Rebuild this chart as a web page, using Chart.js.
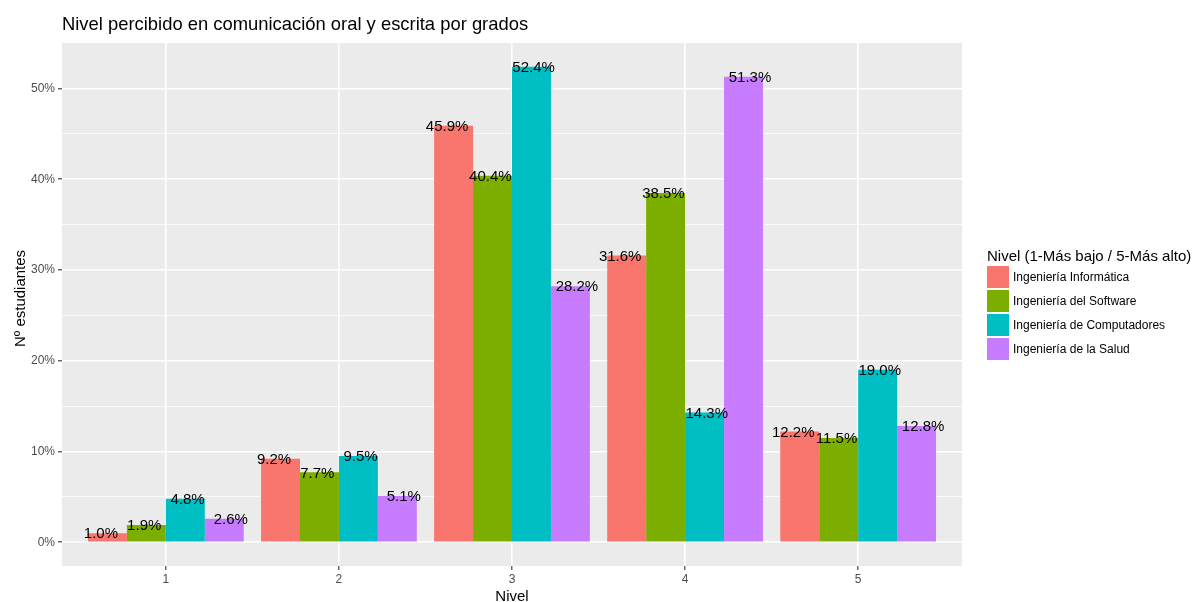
<!DOCTYPE html>
<html>
<head>
<meta charset="utf-8">
<script src="https://cdn.jsdelivr.net/npm/chart.js@4.4.1/dist/chart.umd.min.js"></script>
<style>
  html, body { margin: 0; padding: 0; background: #ffffff; }
  #wrap { width: 1201px; height: 602px; }
</style>
</head>
<body>
<div id="wrap"><canvas id="c" width="1201" height="602"></canvas></div>
<script>
// ---- Data ----
const categories = [1, 2, 3, 4, 5];
const seriesNames = ["Ingeniería Informática", "Ingeniería del Software", "Ingeniería de Computadores", "Ingeniería de la Salud"];
const informatica   = [1.0, 9.2, 45.9, 31.6, 12.2];
const software      = [1.9, 7.7, 40.4, 38.5, 11.5];
const computadores  = [4.8, 9.5, 52.4, 14.3, 19.0];
const salud         = [2.6, 5.1, 28.2, 51.3, 12.8];
const yTicks = [0, 5, 10, 15, 20, 25, 30, 35, 40, 45, 50];
const colors = ["#F8766D", "#7CAE00", "#00BFC4", "#C77CFF"];

const titleText = "Nivel percibido en comunicación oral y escrita por grados";
const xTitle = "Nivel";
const yTitle = "Nº estudiantes";
const legendTitle = "Nivel (1-Más bajo / 5-Más alto)";

const FONT = "'Liberation Sans', Arial, Helvetica, sans-serif";
const allSeries = [informatica, software, computadores, salud];

const datasets = allSeries.map((vals, i) => ({
  label: seriesNames[i],
  data: categories.map((c, j) => ({ x: c, y: vals[j] })),
  backgroundColor: colors[i],
  borderWidth: 0,
  categoryPercentage: 0.9,
  barPercentage: 1.0
}));

const panelPlugin = {
  id: 'panel',
  beforeDraw(chart) {
    const { ctx, chartArea: a } = chart;
    ctx.save();
    ctx.fillStyle = '#EBEBEB';
    ctx.fillRect(a.left, a.top, a.right - a.left, a.bottom - a.top);
    ctx.restore();
  }
};

const labelPlugin = {
  id: 'labels',
  afterDatasetsDraw(chart) {
    const { ctx } = chart;
    const xs = chart.scales.x, ys = chart.scales.y;
    ctx.save();
    ctx.font = '15px ' + FONT;
    ctx.fillStyle = '#000000';
    ctx.textAlign = 'center';
    ctx.textBaseline = 'middle';
    allSeries.forEach((vals, i) => {
      vals.forEach((v, j) => {
        const x = xs.getPixelForValue(categories[j] + (i - 1.5) * 0.25);
        const y = ys.getPixelForValue(v);
        ctx.fillText(v.toFixed(1) + '%', x, y + 1);
      });
    });
    ctx.restore();
  }
};

const textPlugin = {
  id: 'texts',
  afterDraw(chart) {
    const { ctx, chartArea: a } = chart;
    ctx.save();
    // main title
    ctx.fillStyle = '#000000';
    ctx.font = '18.4px ' + FONT;
    ctx.textAlign = 'left';
    ctx.textBaseline = 'alphabetic';
    ctx.fillText(titleText, a.left, 30);
    // x title
    ctx.font = '15px ' + FONT;
    ctx.textAlign = 'center';
    ctx.fillText(xTitle, (a.left + a.right) / 2, 601);
    // y title
    ctx.save();
    ctx.translate(25, (a.top + a.bottom) / 2 - 6);
    ctx.rotate(-Math.PI / 2);
    ctx.textAlign = 'center';
    ctx.textBaseline = 'alphabetic';
    ctx.fillText(yTitle, 0, 0);
    ctx.restore();
    // legend
    ctx.textAlign = 'left';
    ctx.font = '15px ' + FONT;
    ctx.fillText(legendTitle, 987, 261);
    ctx.font = '12px ' + FONT;
    ctx.textBaseline = 'middle';
    chart.data.datasets.forEach((ds, i) => {
      const y = 266 + i * 24;
      ctx.fillStyle = ds.backgroundColor;
      ctx.fillRect(987, y, 22, 22);
      ctx.fillStyle = '#000000';
      ctx.fillText(ds.label, 1013, y + 11.5);
    });
    ctx.restore();
  }
};

new Chart(document.getElementById('c'), {
  type: 'bar',
  data: { datasets },
  options: {
    responsive: false,
    maintainAspectRatio: false,
    animation: false,
    events: [],
    layout: { padding: { top: 43, right: 239, bottom: 0, left: 0 } },
    plugins: { legend: { display: false }, title: { display: false }, tooltip: { enabled: false } },
    scales: {
      x: {
        type: 'linear',
        offset: false,
        min: 0.4,
        max: 5.6,
        afterBuildTicks: s => { s.ticks = categories.map(v => ({ value: v })); },
        afterFit: s => { s.height = 36; },
        border: { display: false },
        grid: { color: '#FFFFFF', lineWidth: 1.6, tickColor: '#333333', tickLength: 4, tickWidth: 1.1, offset: false },
        ticks: { font: { size: 12, family: FONT }, color: '#4D4D4D', padding: 2, callback: v => String(v), maxRotation: 0, autoSkip: false }
      },
      y: {
        min: -2.62,
        max: 55.02,
        afterBuildTicks: s => { s.ticks = yTicks.map(v => ({ value: v })); },
        afterFit: s => { s.width = 62; },
        border: { display: false },
        grid: {
          color: '#FFFFFF',
          lineWidth: c => (c.tick && c.tick.value % 10 === 0) ? 1.6 : 0.8,
          tickColor: c => (c.tick && c.tick.value % 10 === 0) ? '#333333' : 'rgba(0,0,0,0)',
          tickLength: 4,
          tickWidth: 1.1
        },
        ticks: { font: { size: 12, family: FONT }, color: '#4D4D4D', padding: 3, autoSkip: false,
          callback: v => (v % 10 === 0) ? v + '%' : '' }
      }
    }
  },
  plugins: [panelPlugin, labelPlugin, textPlugin]
});
</script>
</body>
</html>
